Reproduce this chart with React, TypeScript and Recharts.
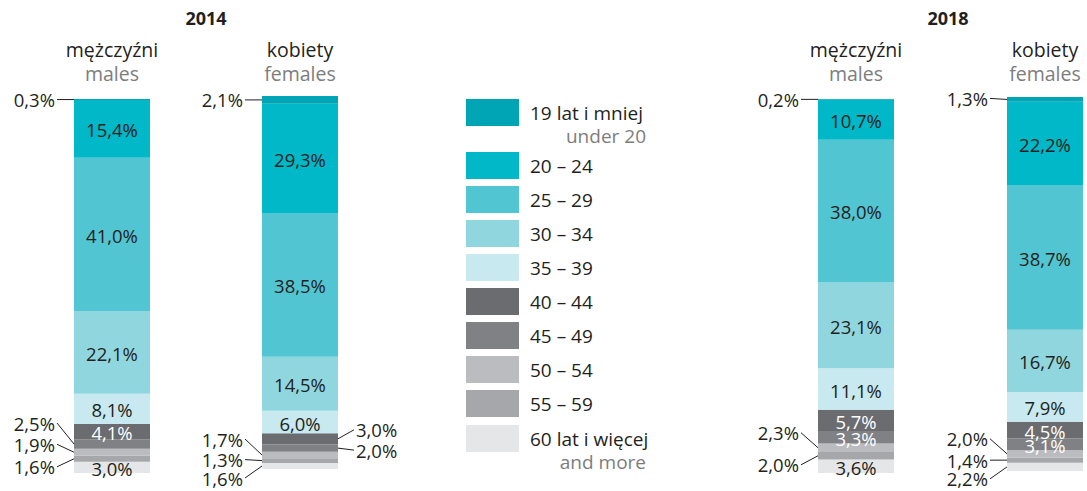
import { BarChart, Bar, XAxis, YAxis, LabelList } from "recharts"

// age groups, top of the stack first
const ageGroups = ["19 lat i mniej", "20 – 24", "25 – 29", "30 – 34", "35 – 39", "40 – 44", "45 – 49", "50 – 54", "55 – 59", "60 lat i więcej"]
const ageGroupsEn = ["under 20", "", "", "", "", "", "", "", "", "and more"]
const colors = ["#00a5b5", "#00b8c8", "#52c5d2", "#90d6df", "#c7e9ef", "#6b6c70", "#808184", "#bbbcbf", "#a6a7aa", "#e5e6e8"]

const males2014 = [0.3, 15.4, 41.0, 22.1, 8.1, 4.1, 2.5, 1.9, 1.6, 3.0]
const females2014 = [2.1, 29.3, 38.5, 14.5, 6.0, 3.0, 2.0, 1.7, 1.3, 1.6]
const males2018 = [0.2, 10.7, 38.0, 23.1, 11.1, 5.7, 3.3, 2.3, 2.0, 3.6]
const females2018 = [1.3, 22.2, 38.7, 16.7, 7.9, 4.5, 3.1, 2.0, 1.4, 2.2]

const years = ["2014", "2018"]
const sexPl = ["mężczyźni", "kobiety"]
const sexEn = ["males", "females"]

const INK = "#231f20"
const GREY = "#7d7d7d"
const FONT = "'Open Sans', sans-serif"
const FS = 18.5

type Out = [side: "left" | "right", dy: number]

const fmt = (v: number) => v.toFixed(1).replace(".", ",") + "%"

function makeLabel(text: string, white: boolean, out?: Out) {
  return (p: any) => {
    const vb = p.viewBox ?? p
    const x = Number(vb.x), y = Number(vb.y), w = Number(vb.width), h = Number(vb.height)
    const cy = y + h / 2
    if (!out) {
      return (
        <text x={x + w / 2} y={cy + 1} textAnchor="middle" dominantBaseline="central"
          fill={white ? "#fff" : INK} fontSize={FS} fontFamily={FONT}>{text}</text>
      )
    }
    const [side, dy] = out
    const ly = cy + dy
    if (side === "left") {
      return (
        <g>
          <line x1={x - 17} y1={ly} x2={x} y2={cy} stroke={INK} strokeWidth={1} />
          <text x={x - 19} y={ly} textAnchor="end" dominantBaseline="central" fill={INK} fontSize={FS} fontFamily={FONT}>{text}</text>
        </g>
      )
    }
    return (
      <g>
        <line x1={x + w} y1={cy} x2={x + w + 16} y2={ly} stroke={INK} strokeWidth={1} />
        <text x={x + w + 18} y={ly} textAnchor="start" dominantBaseline="central" fill={INK} fontSize={FS} fontFamily={FONT}>{text}</text>
      </g>
    )
  }
}

const CW = 260

function Column({ values, center, top, bottom, outs }: { values: number[]; center: number; top: number; bottom: number; outs: Record<number, Out> }) {
  const row: Record<string, number | string> = { name: "x" }
  values.forEach((v, i) => (row["a" + i] = v))
  const order = values.map((_, i) => i).reverse()
  return (
    <div style={{ position: "absolute", left: center - CW / 2, top: 0 }}>
      <BarChart width={CW} height={491} data={[row]} margin={{ top, right: 0, bottom: 491 - bottom, left: 0 }}>
        <XAxis dataKey="name" hide />
        <YAxis hide domain={[0, 100]} allowDataOverflow />
        {order.map((i) => (
          <Bar key={i} dataKey={"a" + i} stackId="s" fill={colors[i]} barSize={76} isAnimationActive={false}>
            <LabelList dataKey={"a" + i} content={makeLabel(fmt(values[i]), i === 5 || i === 6, outs[i])} />
          </Bar>
        ))}
      </BarChart>
    </div>
  )
}

function Header({ center, i }: { center: number; i: number }) {
  return (
    <>
      <div style={{ position: "absolute", left: center - 80, width: 160, top: 38, textAlign: "center", fontSize: 19.5, lineHeight: "24px", color: INK }}>{sexPl[i]}</div>
      <div style={{ position: "absolute", left: center - 80, width: 160, top: 62, textAlign: "center", fontSize: 19.5, lineHeight: "24px", color: GREY }}>{sexEn[i]}</div>
    </>
  )
}

const legendTops = [99, 152, 186, 220, 254, 288, 322, 356, 390, 425]

export default function App() {
  return (
    <div style={{ position: "absolute", left: 0, top: 0, width: 1087, height: 491, overflow: "hidden", background: "#fff", fontFamily: FONT, color: INK }}>
      <div style={{ position: "absolute", left: 146, width: 120, top: 6, textAlign: "center", fontWeight: 700, fontSize: 18, lineHeight: "24px" }}>{years[0]}</div>
      <div style={{ position: "absolute", left: 888, width: 120, top: 6, textAlign: "center", fontWeight: 700, fontSize: 18, lineHeight: "24px" }}>{years[1]}</div>
      <Header center={112} i={0} />
      <Header center={300} i={1} />
      <Header center={856} i={0} />
      <Header center={1045} i={1} />

      <Column values={males2014} center={112} top={99} bottom={473}
        outs={{ 0: ["left", 0], 6: ["left", -21], 7: ["left", -8], 8: ["left", 8] }} />
      <Column values={females2014} center={300} top={96} bottom={469}
        outs={{ 0: ["left", 0], 5: ["right", -9], 6: ["right", 2], 7: ["left", -16], 8: ["left", -1], 9: ["left", 12] }} />
      <Column values={males2018} center={855.5} top={99} bottom={473}
        outs={{ 0: ["left", 0], 7: ["left", -15], 8: ["left", 9] }} />
      <Column values={females2018} center={1045} top={97} bottom={471}
        outs={{ 0: ["left", -1], 7: ["left", -15], 8: ["left", 0], 9: ["left", 12] }} />

      {ageGroups.map((g, i) => (
        <div key={g}>
          <div style={{ position: "absolute", left: 466, top: legendTops[i], width: 53, height: 27, background: colors[i] }} />
          <div style={{ position: "absolute", left: 530, top: legendTops[i] + 2, fontSize: 19, lineHeight: "24px", whiteSpace: "nowrap" }}>{g}</div>
          {ageGroupsEn[i] && (
            <div style={{ position: "absolute", left: 500, width: 146, textAlign: "right", top: legendTops[i] + 25, fontSize: 19, lineHeight: "24px", color: GREY, whiteSpace: "nowrap" }}>{ageGroupsEn[i]}</div>
          )}
        </div>
      ))}
    </div>
  )
}
